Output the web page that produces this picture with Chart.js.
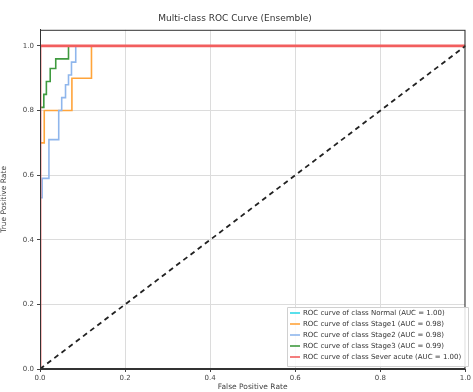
<!DOCTYPE html>
<html>
<head>
<meta charset="utf-8">
<script src="https://cdn.jsdelivr.net/npm/chart.js@4.4.1/dist/chart.umd.min.js"></script>
<style>
  html, body { margin: 0; padding: 0; background: #fff; }
  #wrap { width: 473px; height: 392px; }
</style>
</head>
<body>
<div id="wrap"><canvas id="roc"></canvas></div>
<script>
// ROC points (fpr / tpr)
var classNames = ['Normal', 'Stage1', 'Stage2', 'Stage3', 'Sever acute'];
var aucValues = ['1.00', '0.98', '0.98', '0.99', '1.00'];
var lineColors = ['#2fd8e8', '#ffa43a', '#8fb6ec', '#3f9a3f', '#f25e5e'];

var fprNormal = [0, 0, 1];
var tprNormal = [0, 1, 1];

var fprStage1 = [0, 0, 0.01, 0.01, 0.075, 0.075, 0.121, 0.121, 1];
var tprStage1 = [0, 0.70, 0.70, 0.80, 0.80, 0.90, 0.90, 1.0, 1.0];

var fprStage2 = [0, 0, 0.005, 0.005, 0.021, 0.021, 0.044, 0.044, 0.051, 0.051, 0.06, 0.06, 0.067, 0.067, 0.074, 0.074, 0.084, 0.084, 1];
var tprStage2 = [0, 0.53, 0.53, 0.59, 0.59, 0.71, 0.71, 0.80, 0.80, 0.84, 0.84, 0.88, 0.88, 0.91, 0.91, 0.95, 0.95, 1.0, 1.0];

var fprStage3 = [0, 0, 0.009, 0.009, 0.015, 0.015, 0.024, 0.024, 0.037, 0.037, 0.067, 0.067, 1];
var tprStage3 = [0, 0.81, 0.81, 0.85, 0.85, 0.89, 0.89, 0.93, 0.93, 0.96, 0.96, 1.0, 1.0];

var fprSevere = [0, 0, 1];
var tprSevere = [0, 1, 1];

var chanceX = [0, 1];
var chanceY = [0, 1];

var xTicks = [0, 0.2, 0.4, 0.6, 0.8, 1.0];
var yTicks = [0, 0.2, 0.4, 0.6, 0.8, 1.0];

function toPoints(xs, ys) {
  return xs.map(function (x, i) { return { x: x, y: ys[i] }; });
}

var curves = [
  toPoints(fprNormal, tprNormal),
  toPoints(fprStage1, tprStage1),
  toPoints(fprStage2, tprStage2),
  toPoints(fprStage3, tprStage3),
  toPoints(fprSevere, tprSevere)
];

// later classes sit on top, like matplotlib's draw order
var datasets = curves.map(function (pts, i) {
  return {
    label: 'ROC curve of class ' + classNames[i] + ' (AUC = ' + aucValues[i] + ')',
    data: pts,
    borderColor: lineColors[i],
    backgroundColor: lineColors[i],
    borderWidth: i === 4 ? 2.8 : 1.6,
    pointRadius: 0,
    fill: false,
    tension: 0,
    order: 10 - i
  };
});

datasets.push({
  label: 'chance',
  data: toPoints(chanceX, chanceY),
  borderColor: '#222',
  borderWidth: 1.8,
  borderDash: [5, 4],
  pointRadius: 0,
  fill: false,
  order: 0
});

// matplotlib-like frame and the legend in the lower right corner
var framePlugin = {
  id: 'frame',
  afterDatasetsDraw: function (chart) {
    var ctx = chart.ctx;
    var a = chart.chartArea;
    ctx.save();
    ctx.strokeStyle = '#333';
    ctx.lineWidth = 1;
    ctx.strokeRect(a.left + 0.5, a.top + 0.5, a.right - a.left - 1, a.bottom - a.top - 1);

    var boxL = 287, boxT = 307, boxR = 468, boxB = 366;
    ctx.fillStyle = 'rgba(255,255,255,0.85)';
    ctx.strokeStyle = '#d0d0d0';
    ctx.beginPath();
    ctx.rect(boxL + 0.5, boxT + 0.5, boxR - boxL, boxB - boxT);
    ctx.fill();
    ctx.stroke();

    ctx.font = '7px "DejaVu Sans"';
    ctx.textBaseline = 'middle';
    ctx.fillStyle = '#333';
    for (var i = 0; i < 5; i++) {
      var yy = 313 + i * 11;
      ctx.strokeStyle = lineColors[i];
      ctx.lineWidth = 1.6;
      ctx.beginPath();
      ctx.moveTo(290, yy);
      ctx.lineTo(300, yy);
      ctx.stroke();
      ctx.fillText(chart.data.datasets[i].label, 303, yy);
    }
    ctx.restore();
  }
};

var tickFont = { family: 'DejaVu Sans', size: 7 };

new Chart(document.getElementById('roc'), {
  type: 'line',
  data: { datasets: datasets },
  plugins: [framePlugin],
  options: {
    responsive: true,
    maintainAspectRatio: false,
    animation: false,
    layout: { padding: { left: 0, right: 3, top: 0, bottom: 0 } },
    plugins: {
      legend: { display: false },
      tooltip: { enabled: false },
      title: {
        display: true,
        text: 'Multi-class ROC Curve (Ensemble)',
        color: '#333',
        font: { family: 'DejaVu Sans', size: 9, weight: 'normal' },
        padding: { top: 13, bottom: 6 }
      }
    },
    scales: {
      x: {
        type: 'linear',
        min: 0,
        max: 1,
        afterBuildTicks: function (scale) {
          scale.ticks = xTicks.map(function (v) { return { value: v }; });
        },
        afterFit: function (scale) { scale.height = 23; },
        ticks: {
          color: '#444',
          font: tickFont,
          padding: 2,
          maxRotation: 0,
          callback: function (v) { return Number(v).toFixed(1); }
        },
        grid: { color: '#dcdcdc', lineWidth: 1, tickLength: 3, tickColor: '#444' },
        border: { display: true, color: '#333' },
        title: {
          display: true,
          text: 'False Positive Rate',
          color: '#444',
          font: { family: 'DejaVu Sans', size: 7.5 },
          padding: { top: 0, bottom: 0 }
        }
      },
      y: {
        type: 'linear',
        min: 0,
        max: 1.05,
        afterBuildTicks: function (scale) {
          scale.ticks = yTicks.map(function (v) { return { value: v }; });
        },
        afterFit: function (scale) { scale.width = 40; },
        ticks: {
          color: '#444',
          font: tickFont,
          padding: 3,
          callback: function (v) { return Number(v).toFixed(1); }
        },
        grid: { color: '#dcdcdc', lineWidth: 1, tickLength: 3, tickColor: '#444' },
        border: { display: true, color: '#333' },
        title: {
          display: true,
          text: 'True Positive Rate',
          color: '#444',
          font: { family: 'DejaVu Sans', size: 7.5 },
          padding: { top: 0, bottom: 4 }
        }
      }
    }
  }
});
</script>
</body>
</html>
